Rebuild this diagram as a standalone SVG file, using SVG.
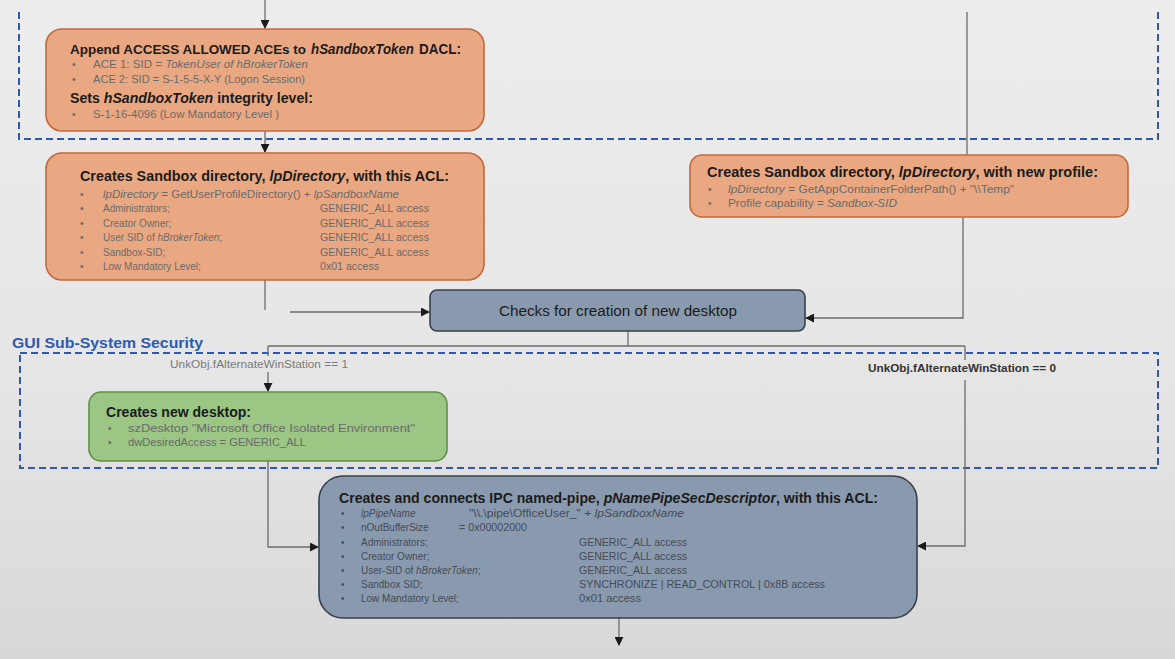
<svg xmlns="http://www.w3.org/2000/svg" width="1175" height="659" viewBox="0 0 1175 659">
<defs>
<linearGradient id="bg" x1="0" y1="0" x2="0" y2="1">
<stop offset="0" stop-color="#ededed"/>
<stop offset="0.55" stop-color="#e6e6e6"/>
<stop offset="1" stop-color="#d8d8d8"/>
</linearGradient>
<marker id="arr" viewBox="0 0 10 10" refX="9" refY="5" markerWidth="9" markerHeight="9" markerUnits="userSpaceOnUse" orient="auto">
<path d="M0,0 L10,5 L0,10 Z" fill="#1a1a1a"/>
</marker>
<style>
text{font-family:"Liberation Sans",Arial,sans-serif;}
.orange{fill:#eaa882;stroke:#c4683c;stroke-width:1.6;}
.slate{fill:#8a9aae;stroke:#37404c;stroke-width:1.6;}
.green{fill:#9cc684;stroke:#5e8f45;stroke-width:1.6;}
.title{font-size:14.5px;font-weight:bold;fill:#1b1b1b;}
.sm{font-size:10px;fill:#6a6a6a;}
.smd{font-size:10px;fill:#434b56;}
.it{font-style:italic;}
.conn{fill:none;stroke:#6c6c6c;stroke-width:1.3;}
.dash{fill:none;stroke:#2f58b0;stroke-width:2;stroke-dasharray:7 4;}
</style>
</defs>
<rect x="0" y="0" width="1175" height="659" fill="url(#bg)"/>

<g id="regions">
<path class="dash" d="M19,12 V139 H1158 V12"/>
<rect class="dash" x="20" y="353" width="1138" height="115"/>
<text x="12" y="348" font-size="15" font-weight="bold" fill="#2d5bb0" textLength="191" lengthAdjust="spacingAndGlyphs">GUI Sub-System Security</text>
</g>

<g id="connectors">
<path class="conn" d="M265,0 V28" marker-end="url(#arr)"/>
<path class="conn" d="M265,131 V152" marker-end="url(#arr)"/>
<path class="conn" d="M265,280 V310"/>
<path class="conn" d="M290,312 H429" marker-end="url(#arr)"/>
<path class="conn" d="M967,12 V155"/>
<path class="conn" d="M963,217 V318 H806" marker-end="url(#arr)"/>
<path class="conn" d="M628,331 V346"/>
<path class="conn" d="M268,346 H965"/>
<path class="conn" d="M268,346 V356"/>
<path class="conn" d="M268,372 V391" marker-end="url(#arr)"/>
<path class="conn" d="M965,346 V360"/>
<path class="conn" d="M965,380 V546 H918" marker-end="url(#arr)"/>
<path class="conn" d="M268,461 V547 H318" marker-end="url(#arr)"/>
<path class="conn" d="M619,618 V645" marker-end="url(#arr)"/>
<text x="170" y="368" font-size="10" fill="#7a7a7a" textLength="178" lengthAdjust="spacingAndGlyphs">UnkObj.fAlternateWinStation == 1</text>
<text x="868" y="372" font-size="11" font-weight="bold" fill="#333" textLength="188" lengthAdjust="spacingAndGlyphs">UnkObj.fAlternateWinStation == 0</text>
</g>

<g id="node-append-aces">
<rect class="orange" x="46" y="29" width="438" height="102" rx="16"/>
<text x="70" y="54" font-size="13.5" font-weight="bold" fill="#1b1b1b" textLength="236" lengthAdjust="spacingAndGlyphs">Append ACCESS ALLOWED ACEs to</text>
<text class="title it" x="311" y="54" textLength="103" lengthAdjust="spacingAndGlyphs">hSandboxToken</text>
<text class="title" x="419" y="54" textLength="42" lengthAdjust="spacingAndGlyphs">DACL:</text>
<text class="sm" x="72" y="68">•</text>
<text class="sm" x="93" y="68" textLength="215" lengthAdjust="spacingAndGlyphs">ACE 1: SID = <tspan class="it">TokenUser of hBrokerToken</tspan></text>
<text class="sm" x="72" y="83">•</text>
<text class="sm" x="93" y="83" textLength="212" lengthAdjust="spacingAndGlyphs">ACE 2: SID = S-1-5-5-X-Y (Logon Session)</text>
<text class="title" x="70" y="103" textLength="243" lengthAdjust="spacingAndGlyphs">Sets <tspan class="it">hSandboxToken</tspan> integrity level:</text>
<text class="sm" x="72" y="118">•</text>
<text class="sm" x="93" y="118" textLength="186" lengthAdjust="spacingAndGlyphs">S-1-16-4096 (Low Mandatory Level )</text>
</g>

<g id="node-sandbox-dir-acl">
<rect class="orange" x="46" y="153" width="438" height="127" rx="16"/>
<text class="title" x="80" y="181" textLength="369" lengthAdjust="spacingAndGlyphs">Creates Sandbox directory, <tspan class="it">lpDirectory</tspan>, with this ACL:</text>
<text class="sm" x="80" y="198">•</text>
<text class="sm" x="103" y="198" textLength="296" lengthAdjust="spacingAndGlyphs"><tspan class="it">lpDirectory</tspan> = GetUserProfileDirectory() + <tspan class="it">lpSandboxName</tspan></text>
<text class="sm" x="80" y="212">•</text>
<text class="sm" x="103" y="212">Administrators;</text>
<text class="sm" x="320" y="212" textLength="109" lengthAdjust="spacingAndGlyphs">GENERIC_ALL access</text>
<text class="sm" x="80" y="227">•</text>
<text class="sm" x="103" y="227">Creator Owner;</text>
<text class="sm" x="320" y="227" textLength="109" lengthAdjust="spacingAndGlyphs">GENERIC_ALL access</text>
<text class="sm" x="80" y="241">•</text>
<text class="sm" x="103" y="241">User SID of <tspan class="it">hBrokerToken</tspan>;</text>
<text class="sm" x="320" y="241" textLength="109" lengthAdjust="spacingAndGlyphs">GENERIC_ALL access</text>
<text class="sm" x="80" y="256">•</text>
<text class="sm" x="103" y="256">Sandbox-SID;</text>
<text class="sm" x="320" y="256" textLength="109" lengthAdjust="spacingAndGlyphs">GENERIC_ALL access</text>
<text class="sm" x="80" y="270">•</text>
<text class="sm" x="103" y="270">Low Mandatory Level;</text>
<text class="sm" x="320" y="270" textLength="59" lengthAdjust="spacingAndGlyphs">0x01 access</text>
</g>

<g id="node-sandbox-dir-profile">
<rect class="orange" x="690" y="155" width="438" height="62" rx="12"/>
<text class="title" x="707" y="177" textLength="391" lengthAdjust="spacingAndGlyphs">Creates Sandbox directory, <tspan class="it">lpDirectory</tspan>, with new profile:</text>
<text class="sm" x="708" y="193">•</text>
<text class="sm" x="728" y="193" textLength="286" lengthAdjust="spacingAndGlyphs"><tspan class="it">lpDirectory</tspan> = GetAppContainerFolderPath() + "\\Temp"</text>
<text class="sm" x="708" y="207">•</text>
<text class="sm" x="728" y="207" textLength="169" lengthAdjust="spacingAndGlyphs">Profile capability = <tspan class="it">Sandbox-SID</tspan></text>
</g>

<g id="node-checks-desktop">
<rect class="slate" x="430" y="290" width="375" height="41" rx="7"/>
<text x="618" y="316" font-size="14" fill="#1b1b1b" text-anchor="middle" textLength="238" lengthAdjust="spacingAndGlyphs">Checks for creation of new desktop</text>
</g>

<g id="node-new-desktop">
<rect class="green" x="89" y="392" width="358" height="69" rx="12"/>
<text class="title" x="106" y="417" textLength="145" lengthAdjust="spacingAndGlyphs">Creates new desktop:</text>
<text class="sm" x="108" y="432">•</text>
<text class="sm" x="128" y="432" textLength="287" lengthAdjust="spacingAndGlyphs">szDesktop "Microsoft Office Isolated Environment"</text>
<text class="sm" x="108" y="446">•</text>
<text class="sm" x="128" y="446" textLength="178" lengthAdjust="spacingAndGlyphs">dwDesiredAccess = GENERIC_ALL</text>
</g>

<g id="node-ipc-pipe">
<rect class="slate" x="319" y="476" width="598" height="142" rx="24"/>
<text class="title" x="339" y="503" textLength="539" lengthAdjust="spacingAndGlyphs">Creates and connects IPC named-pipe, <tspan class="it">pNamePipeSecDescriptor</tspan>, with this ACL:</text>
<text class="smd" x="341" y="517">•</text>
<text class="smd it" x="361" y="517">lpPipeName</text>
<text class="smd" x="469" y="517" textLength="215" lengthAdjust="spacingAndGlyphs">"\\.\pipe\OfficeUser_" + <tspan class="it">lpSandboxName</tspan></text>
<text class="smd" x="341" y="531">•</text>
<text class="smd" x="361" y="531">nOutBufferSize</text>
<text class="smd" x="459" y="531" textLength="68" lengthAdjust="spacingAndGlyphs">= 0x00002000</text>
<text class="smd" x="341" y="546">•</text>
<text class="smd" x="361" y="546">Administrators;</text>
<text class="smd" x="579" y="546" textLength="108" lengthAdjust="spacingAndGlyphs">GENERIC_ALL access</text>
<text class="smd" x="341" y="560">•</text>
<text class="smd" x="361" y="560">Creator Owner;</text>
<text class="smd" x="579" y="560" textLength="108" lengthAdjust="spacingAndGlyphs">GENERIC_ALL access</text>
<text class="smd" x="341" y="574">•</text>
<text class="smd" x="361" y="574">User-SID of <tspan class="it">hBrokerToken</tspan>;</text>
<text class="smd" x="579" y="574" textLength="108" lengthAdjust="spacingAndGlyphs">GENERIC_ALL access</text>
<text class="smd" x="341" y="588">•</text>
<text class="smd" x="361" y="588">Sandbox SID;</text>
<text class="smd" x="579" y="588" textLength="246" lengthAdjust="spacingAndGlyphs">SYNCHRONIZE | READ_CONTROL | 0x8B access</text>
<text class="smd" x="341" y="602">•</text>
<text class="smd" x="361" y="602">Low Mandatory Level;</text>
<text class="smd" x="579" y="602" textLength="62" lengthAdjust="spacingAndGlyphs">0x01 access</text>
</g>
</svg>
